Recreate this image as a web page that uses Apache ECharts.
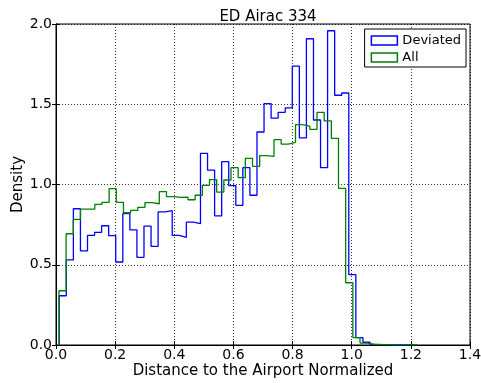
<!DOCTYPE html>
<html>
<head>
<meta charset="utf-8">
<script src="https://cdn.jsdelivr.net/npm/echarts@6/dist/echarts.min.js"></script>
<style>
  html, body { margin: 0; padding: 0; background: #fff; }
  #chart { width: 481px; height: 383px; }
</style>
</head>
<body>
<div id="chart"></div>
<script>
// Histogram bins: first edge and bin width for each series (50 bins each)
const deviatedBinStart = 0.011;
const deviatedBinWidth = 0.02388;
const allBinStart = 0.010;
const allBinWidth = 0.02424;

// Density per bin
const deviatedDensity = [
  0.307, 0.530, 0.849, 0.586, 0.683, 0.702, 0.743, 0.681, 0.517, 0.818,
  0.717, 0.546, 0.741, 0.615, 0.829, 0.837, 0.683, 0.671, 0.766, 0.756,
  1.194, 1.090, 0.804, 1.142, 0.993, 0.870, 1.105, 0.933, 1.327, 1.504,
  1.414, 1.450, 1.477, 1.738, 1.290, 1.908, 1.402, 1.105, 1.958, 1.556,
  1.570, 0.438, 0.046, 0.017, 0.004, 0.002, 0.002, 0.000, 0.000, 0.002
];
const allDensity = [
  0.338, 0.693, 0.783, 0.847, 0.847, 0.876, 0.889, 0.974, 0.889, 0.824,
  0.839, 0.858, 0.887, 0.880, 0.955, 0.924, 0.920, 0.921, 0.905, 0.933,
  0.995, 1.030, 0.953, 1.028, 1.105, 1.043, 1.163, 1.113, 1.180, 1.175,
  1.279, 1.252, 1.263, 1.373, 1.364, 1.344, 1.450, 1.396, 1.288, 0.976,
  0.388, 0.046, 0.012, 0.004, 0.002, 0.002, 0.001, 0.001, 0.001, 0.001
];

const xTicks = [0.0, 0.2, 0.4, 0.6, 0.8, 1.0, 1.2, 1.4];
const yTicks = [0.0, 0.5, 1.0, 1.5, 2.0];

// Step outline of a histogram: rise at the first edge, flat across each bin, drop at the last edge
function stepOutline(start, width, values) {
  const pts = [[start, 0]];
  values.forEach((v, i) => pts.push([start + i * width, v]));
  pts.push([start + values.length * width, 0]);
  return pts;
}

const FONT = 'DejaVu Sans';
const chart = echarts.init(document.getElementById('chart'), null, { renderer: 'canvas' });

const tickCommon = { show: true, inside: true, length: 4, lineStyle: { color: '#000', width: 1 } };

chart.setOption({
  animation: false,
  backgroundColor: '#fff',
  title: {
    text: 'ED Airac 334',
    left: 263, top: 5, textAlign: 'center',
    textStyle: { fontFamily: FONT, fontSize: 15, fontWeight: 'normal', color: '#000' }
  },
  grid: {
    left: 56, right: 11, top: 24, bottom: 38,
    show: true, borderColor: '#000', borderWidth: 1,
    containLabel: false, outerBoundsMode: 'none'
  },
  legend: {
    orient: 'vertical', right: 15, top: 29,
    itemWidth: 26, itemHeight: 9, itemGap: 4, itemTextGap: 13,
    padding: [5, 5, 3, 6],
    borderColor: '#000', borderWidth: 1, backgroundColor: '#fff',
    textStyle: { fontFamily: FONT, fontSize: 13, color: '#000' },
    data: [
      { name: 'Deviated', icon: 'rect', itemStyle: { color: '#fff', borderColor: '#0000ff', borderWidth: 1.5 } },
      { name: 'All', icon: 'rect', itemStyle: { color: '#fff', borderColor: '#008000', borderWidth: 1.5 } }
    ]
  },
  xAxis: [{
    type: 'value', min: xTicks[0], max: xTicks[xTicks.length - 1], interval: 0.2,
    name: 'Distance to the Airport Normalized', nameLocation: 'middle', nameGap: 19,
    nameMoveOverlap: false,
    nameTextStyle: { fontFamily: FONT, fontSize: 15, color: '#000' },
    axisLine: { show: true, lineStyle: { color: '#000' } },
    axisTick: tickCommon,
    axisLabel: { fontFamily: FONT, fontSize: 14, color: '#000', margin: 3, formatter: v => v.toFixed(1) },
    splitLine: { show: true, lineStyle: { color: '#000', width: 0.8, type: [1, 2] } }
  }, {
    type: 'value', position: 'top', min: xTicks[0], max: xTicks[xTicks.length - 1], interval: 0.2,
    axisLine: { show: true, lineStyle: { color: '#000' } },
    axisTick: tickCommon, axisLabel: { show: false }, splitLine: { show: false }
  }],
  yAxis: [{
    type: 'value', min: yTicks[0], max: yTicks[yTicks.length - 1], interval: 0.5,
    name: 'Density', nameLocation: 'middle', nameGap: 30,
    nameMoveOverlap: false,
    nameTextStyle: { fontFamily: FONT, fontSize: 15, color: '#000' },
    axisLine: { show: true, lineStyle: { color: '#000' } },
    axisTick: tickCommon,
    axisLabel: { fontFamily: FONT, fontSize: 14, color: '#000', margin: 4, formatter: v => v.toFixed(1) },
    splitLine: { show: true, lineStyle: { color: '#000', width: 0.8, type: [1, 2] } }
  }, {
    type: 'value', position: 'right', min: yTicks[0], max: yTicks[yTicks.length - 1], interval: 0.5,
    axisLine: { show: true, lineStyle: { color: '#000' } },
    axisTick: tickCommon, axisLabel: { show: false }, splitLine: { show: false }
  }],
  series: [{
    name: 'Deviated', type: 'line', step: 'end', showSymbol: false, symbol: 'none',
    data: stepOutline(deviatedBinStart, deviatedBinWidth, deviatedDensity),
    itemStyle: { color: '#0000ff' },
    lineStyle: { color: '#0000ff', width: 1.3 }
  }, {
    name: 'All', type: 'line', step: 'end', showSymbol: false, symbol: 'none',
    data: stepOutline(allBinStart, allBinWidth, allDensity),
    itemStyle: { color: '#008000' },
    lineStyle: { color: '#008000', width: 1.3 }
  }]
});
</script>
</body>
</html>
